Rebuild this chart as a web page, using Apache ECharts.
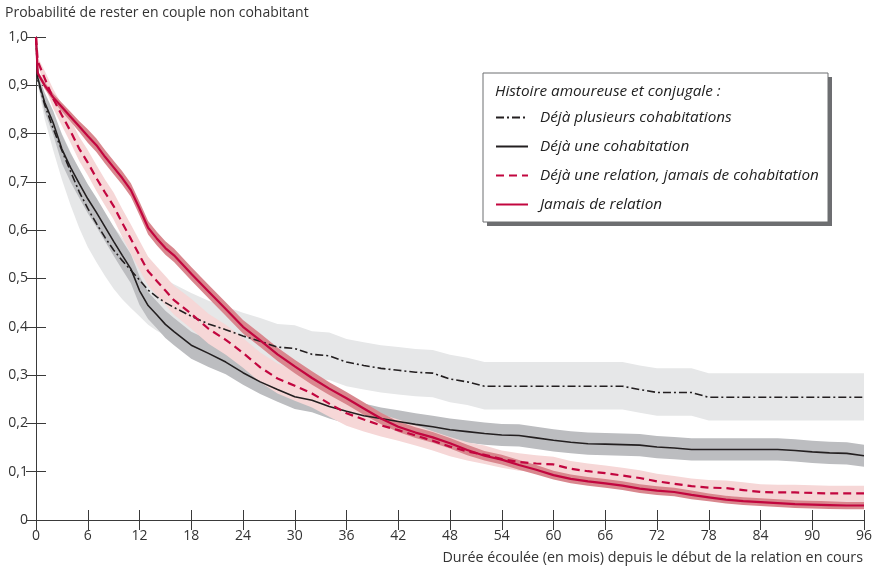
<!DOCTYPE html>
<html><head><meta charset="utf-8">
<script src="https://cdn.jsdelivr.net/npm/echarts@6/dist/echarts.min.js"></script>
<style>html,body{margin:0;padding:0;background:#fff}#c{width:878px;height:570px}</style>
</head><body><div id="c"></div>
<script>
// ---- data ----
const months = [0,0.2,1,2,3,4,5,6,7,8,9,10,11,12,13,14,15,16,18,20,22,24,26,28,30,32,34,36,38,40,42,44,46,48,50,52,54,56,58,60,62,64,66,68,70,72,74,76,78,80,82,84,86,88,90,92,94,96];
const xTickLabels = ['0','6','12','18','24','30','36','42','48','54','60','66','72','78','84','90','96'];
const yTickLabels = ['0','0,1','0,2','0,3','0,4','0,5','0,6','0,7','0,8','0,9','1,0'];
const seriesNames = ['Déjà plusieurs cohabitations','Déjà une cohabitation','Déjà une relation, jamais de cohabitation','Jamais de relation'];

const plusieurs = [1.0,0.912,0.860,0.810,0.765,0.722,0.680,0.645,0.614,0.585,0.559,0.537,0.517,0.497,0.476,0.462,0.450,0.440,0.422,0.406,0.394,0.381,0.370,0.358,0.355,0.343,0.340,0.327,0.320,0.314,0.310,0.306,0.304,0.292,0.286,0.277,0.277,0.277,0.277,0.277,0.277,0.277,0.277,0.277,0.270,0.264,0.264,0.264,0.254,0.254,0.254,0.254,0.254,0.254,0.254,0.254,0.254,0.254];
const uneCohab = [1.0,0.915,0.865,0.822,0.768,0.730,0.697,0.665,0.637,0.607,0.577,0.548,0.520,0.475,0.444,0.425,0.405,0.390,0.362,0.345,0.327,0.305,0.286,0.270,0.255,0.248,0.235,0.225,0.216,0.210,0.204,0.198,0.193,0.187,0.183,0.179,0.176,0.175,0.170,0.165,0.161,0.158,0.157,0.156,0.155,0.151,0.149,0.146,0.146,0.146,0.146,0.146,0.146,0.144,0.141,0.139,0.138,0.133];
const uneRelation = [1.0,0.950,0.915,0.872,0.838,0.805,0.769,0.740,0.708,0.678,0.650,0.615,0.582,0.548,0.515,0.495,0.475,0.455,0.427,0.396,0.373,0.346,0.316,0.293,0.278,0.262,0.241,0.221,0.208,0.196,0.186,0.175,0.164,0.152,0.142,0.135,0.126,0.120,0.117,0.115,0.106,0.101,0.097,0.092,0.087,0.080,0.075,0.070,0.067,0.066,0.062,0.058,0.057,0.057,0.056,0.055,0.055,0.055];
const jamais = [1.0,0.925,0.900,0.875,0.855,0.835,0.815,0.795,0.776,0.752,0.730,0.708,0.683,0.645,0.605,0.583,0.563,0.548,0.510,0.473,0.437,0.400,0.372,0.343,0.318,0.294,0.272,0.252,0.231,0.210,0.193,0.181,0.171,0.159,0.145,0.133,0.125,0.114,0.104,0.093,0.085,0.080,0.076,0.071,0.065,0.061,0.058,0.052,0.047,0.042,0.039,0.037,0.035,0.033,0.032,0.031,0.030,0.030];

// confidence band distances below / above each curve
const plusieursLo = [0,0.01,0.03,0.045,0.06,0.07,0.075,0.08,0.08,0.08,0.08,0.08,0.078,0.075,0.072,0.07,0.068,0.065,0.06,0.057,0.055,0.052,0.05,0.05,0.05,0.05,0.05,0.05,0.05,0.05,0.05,0.05,0.05,0.048,0.048,0.048,0.048,0.048,0.048,0.048,0.048,0.048,0.048,0.048,0.048,0.048,0.048,0.048,0.048,0.048,0.048,0.048,0.048,0.048,0.048,0.048,0.048,0.048];
const plusieursHi = [0,0.01,0.02,0.03,0.035,0.04,0.045,0.048,0.048,0.048,0.048,0.048,0.048,0.048,0.048,0.048,0.048,0.048,0.048,0.048,0.048,0.048,0.048,0.048,0.048,0.048,0.048,0.048,0.048,0.048,0.048,0.048,0.048,0.05,0.05,0.05,0.05,0.05,0.05,0.05,0.05,0.05,0.05,0.05,0.05,0.05,0.05,0.05,0.05,0.05,0.05,0.05,0.05,0.05,0.05,0.05,0.05,0.05];
const uneCohabHalf = [0,0.01,0.02,0.025,0.03,0.03,0.03,0.03,0.03,0.03,0.03,0.03,0.03,0.03,0.028,0.028,0.028,0.028,0.028,0.028,0.025,0.025,0.025,0.025,0.025,0.025,0.025,0.025,0.025,0.023,0.023,0.023,0.023,0.023,0.023,0.023,0.023,0.023,0.023,0.023,0.023,0.023,0.023,0.023,0.023,0.023,0.023,0.023,0.023,0.023,0.023,0.023,0.023,0.023,0.023,0.023,0.023,0.023];
const uneRelationHalf = [0,0.008,0.015,0.02,0.022,0.024,0.025,0.026,0.027,0.027,0.028,0.029,0.03,0.03,0.03,0.03,0.03,0.03,0.031,0.031,0.031,0.031,0.031,0.031,0.031,0.029,0.027,0.026,0.025,0.023,0.022,0.021,0.02,0.02,0.019,0.019,0.018,0.018,0.017,0.016,0.016,0.016,0.016,0.016,0.016,0.016,0.016,0.016,0.016,0.016,0.016,0.016,0.016,0.016,0.016,0.016,0.016,0.016];
const jamaisHalf = [0,0.005,0.007,0.008,0.009,0.01,0.011,0.014,0.014,0.014,0.014,0.014,0.014,0.014,0.014,0.014,0.014,0.014,0.014,0.014,0.014,0.014,0.014,0.014,0.014,0.014,0.013,0.013,0.013,0.012,0.011,0.011,0.011,0.011,0.011,0.01,0.01,0.01,0.01,0.009,0.009,0.009,0.009,0.009,0.009,0.009,0.009,0.009,0.008,0.008,0.008,0.008,0.008,0.008,0.008,0.008,0.008,0.008];

// ---- chart ----
const FONT = '"Open Sans", "Noto Sans", sans-serif';
const TXT = '#333';
const RED = '#c2063f';
const BLACK = '#231f20';
const AX_FS = 14;
const LEG_FS = 15.3;

function band(vals, lo, hi, color) {
  return {
    type: 'custom', silent: true, z: 2, clip: true,
    data: months.map((m, i) => [m, vals[i] - lo[i], vals[i] + hi[i]]),
    encode: { x: 0, y: [1, 2] },
    renderItem: function (params, api) {
      if (params.dataIndex !== 0) return null;
      const pts = [];
      for (let i = 0; i < months.length; i++) pts.push(api.coord([months[i], vals[i] + hi[i]]));
      for (let i = months.length - 1; i >= 0; i--) pts.push(api.coord([months[i], vals[i] - lo[i]]));
      return { type: 'polygon', shape: { points: pts }, style: { fill: color, stroke: null } };
    }
  };
}
function line(name, vals, color, width, type) {
  return {
    type: 'line', name: name, z: 4, symbol: 'none', showSymbol: false, smooth: false,
    data: months.map((m, i) => [m, vals[i]]),
    lineStyle: { color: color, width: width, type: type },
    itemStyle: { color: color },
    emphasis: { disabled: true }
  };
}

const chart = echarts.init(document.getElementById('c'), null, { renderer: 'canvas' });
const axisLineStyle = { color: '#3a3a3a', width: 1 };
chart.setOption({
  animation: false,
  backgroundColor: '#fff',
  textStyle: { fontFamily: FONT },
  grid: { left: 36, right: 14, top: 37, bottom: 50 },
  xAxis: [{
    type: 'value', min: 0, max: 96, interval: 6, position: 'bottom',
    name: 'Durée écoulée (en mois) depuis le début de la relation en cours',
    nameLocation: 'end', nameGap: -1,
    nameTextStyle: { align: 'right', verticalAlign: 'top', padding: [31, 0, 0, 0], fontSize: 14.3, color: TXT, fontFamily: FONT },
    axisLine: { show: true, lineStyle: axisLineStyle },
    axisTick: { show: true, inside: true, length: 10, lineStyle: axisLineStyle },
    axisLabel: { margin: 9, fontSize: AX_FS, color: TXT, fontFamily: FONT,
      formatter: v => xTickLabels[Math.round(v / 6)] },
    splitLine: { show: false }
  }, {
    type: 'value', min: 0, max: 96, interval: 6, position: 'top',
    axisLine: { show: true, lineStyle: axisLineStyle },
    axisTick: { show: true, inside: true, length: 10, lineStyle: axisLineStyle },
    axisLabel: { show: false }, splitLine: { show: false }
  }],
  yAxis: [{
    type: 'value', min: 0, max: 1, interval: 0.1, position: 'left',
    name: 'Probabilité de rester en couple non cohabitant',
    nameLocation: 'end', nameGap: 17,
    nameTextStyle: { align: 'left', verticalAlign: 'bottom', padding: [0, 0, 0, -31], fontSize: AX_FS, color: TXT, fontFamily: FONT },
    axisLine: { show: true, lineStyle: axisLineStyle },
    axisTick: { show: true, inside: true, length: 10, lineStyle: axisLineStyle },
    axisLabel: { margin: 8, fontSize: AX_FS, color: TXT, fontFamily: FONT,
      formatter: v => yTickLabels[Math.round(v * 10)] },
    splitLine: { show: false }
  }, {
    type: 'value', min: 0, max: 1, interval: 0.1, position: 'right',
    axisLine: { show: true, lineStyle: axisLineStyle },
    axisTick: { show: true, inside: true, length: 10, lineStyle: axisLineStyle },
    axisLabel: { show: false }, splitLine: { show: false }
  }],
  legend: {
    data: seriesNames, orient: 'vertical', left: 490, top: 105, padding: 5,
    itemWidth: 32, itemHeight: 14, itemGap: 14, selectedMode: false, z: 10,
    itemStyle: { opacity: 0 },
    textStyle: { fontStyle: 'italic', fontSize: LEG_FS, color: '#222', fontFamily: FONT, padding: [0, 0, 0, 7] }
  },
  graphic: [
    { type: 'rect', z: 8, shape: { x: 487, y: 77, width: 345, height: 149 }, style: { fill: '#6d6e71' } },
    { type: 'rect', z: 9, shape: { x: 483, y: 73, width: 345, height: 149 }, style: { fill: '#fff', stroke: '#6d6e71', lineWidth: 1 } },
    { type: 'text', z: 10, x: 495, y: 92, style: { text: 'Histoire amoureuse et conjugale :', fontStyle: 'italic', fontSize: LEG_FS, fill: '#222', fontFamily: FONT, verticalAlign: 'middle' } }
  ],
  series: [
    band(plusieurs, plusieursLo, plusieursHi, '#e6e7e8'),
    band(uneCohab, uneCohabHalf, uneCohabHalf, '#bcbdc0'),
    band(uneRelation, uneRelationHalf, uneRelationHalf, '#f6d7d7'),
    band(jamais, jamaisHalf, jamaisHalf, '#d9878e'),
    line(seriesNames[0], plusieurs, BLACK, 1.6, [8, 3, 2, 3]),
    line(seriesNames[1], uneCohab, BLACK, 1.6, 'solid'),
    line(seriesNames[2], uneRelation, RED, 2.2, [8, 5]),
    line(seriesNames[3], jamais, RED, 2.2, 'solid')
  ]
});
</script>
</body></html>
